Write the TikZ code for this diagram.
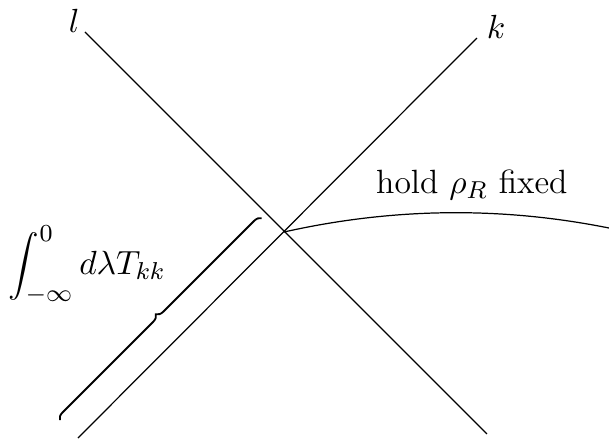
\documentclass[tikz,border=0pt]{standalone}
\usetikzlibrary{decorations.pathreplacing}
\begin{document}
\begin{tikzpicture}[x=1.0cm,y=1.0cm,>=stealth,font=\fontsize{11}{13}\selectfont]
  \useasboundingbox (-3.264,-2.368) rectangle (3.736,2.667);
  \coordinate (O) at (0,0);
  \coordinate (lA) at (-2.287,2.299); \coordinate (lB) at (2.333,-2.322);
  \coordinate (kA) at (-2.368,-2.368); \coordinate (kB) at (2.218,2.230);
  \coordinate (R) at (3.736,0.046);
  \coordinate (bA) at (-2.575,-2.161); \coordinate (bB) at (-0.253,0.161);
  \draw (lA) -- (lB);
  \draw (kA) -- (kB);
  \node (lname) at (-2.41,2.43) {$l$};
  \node (kname) at (2.44,2.36) {$k$};
  \draw (O) .. controls (1.247,0.28) and (2.492,0.295) .. (R);
  \node (hold) at (2.16,0.54) {hold $\rho_R$ fixed};
  \draw[semithick,decorate,decoration={brace,amplitude=2.3pt}] (bA) -- (bB);
  \node (integral) at (-2.26,-0.38) {$\displaystyle\int_{-\infty}^0 d\lambda T_{kk}$};
\end{tikzpicture}
\end{document}
